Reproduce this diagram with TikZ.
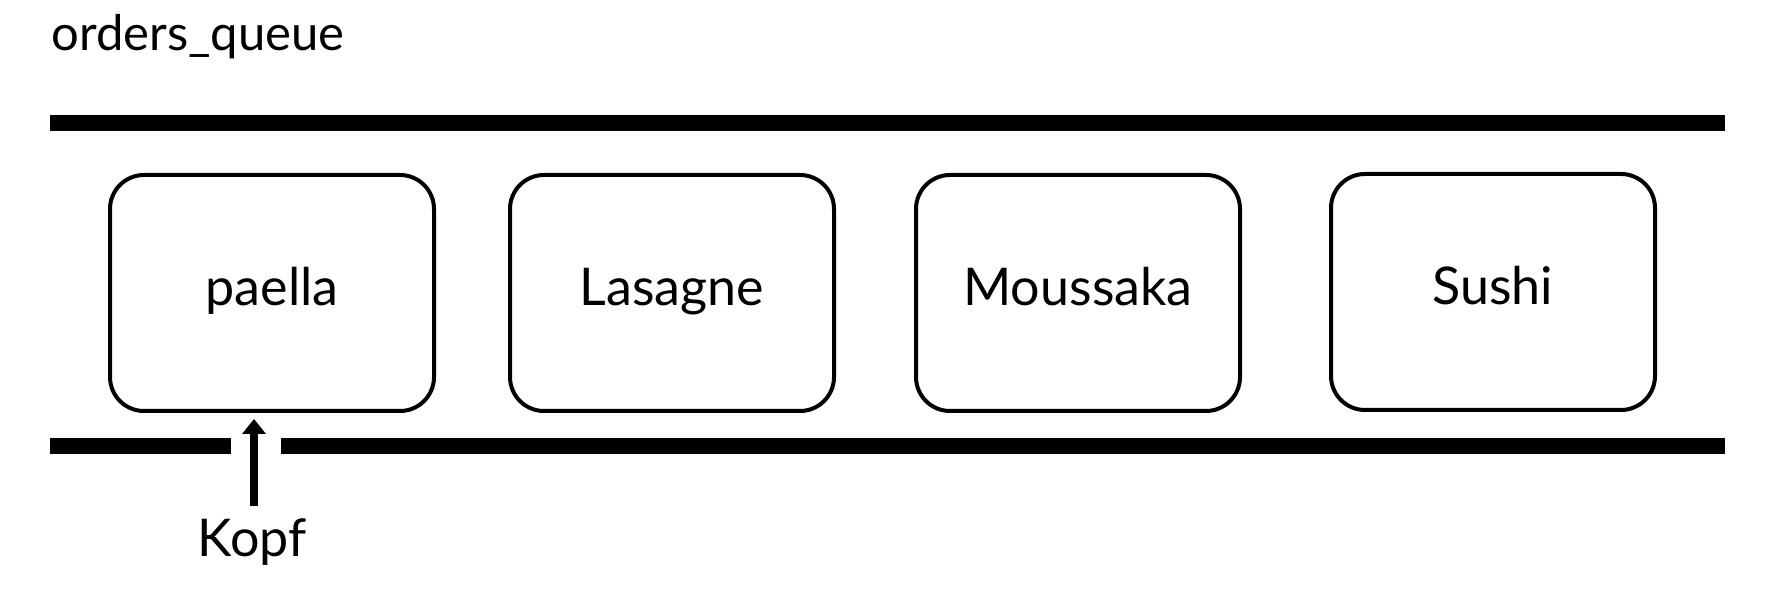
\documentclass[tikz,border=0pt]{standalone}
\usepackage{fontspec}
\setmainfont{Lato}
\usetikzlibrary{arrows.meta}
\begin{document}
\begin{tikzpicture}[x=0.5pt,y=-0.5pt,
  dish/.style={draw=black,line width=2pt,rounded corners=17pt,
    minimum width=162pt,minimum height=118pt,
    font=\fontsize{26pt}{30pt}\selectfont,
    text height=19pt,text depth=6.5pt,inner sep=0pt},
  bar/.style={line width=8pt,line cap=butt},
  lbl/.style={font=\fontsize{26pt}{30pt}\selectfont,inner sep=0pt},
  ptr/.style={line width=3.8pt,-{Triangle[width=11.5pt,length=7.5pt]}}]
\useasboundingbox (0,0) rectangle (1771,592);
\fill[white] (0,0) rectangle (1771,592);
% title
\node[lbl,font=\fontsize{24.5pt}{29pt}\selectfont,anchor=base west] (title) at (51,51) {orders\_queue};
% bars
\coordinate (tl) at (50,123);
\coordinate (tr) at (1725,123);
\coordinate (bl) at (50,446);
\coordinate (bg1) at (231,446);
\coordinate (bg2) at (281,446);
\coordinate (br) at (1725,446);
\draw[bar] (tl) -- (tr);
\draw[bar] (bl) -- (bg1);
\draw[bar] (bg2) -- (br);
% dishes
\node[dish] (paella) at (272,293) {paella};
\node[dish] (lasagne) at (672,293) {Lasagne};
\node[dish] (moussaka) at (1078,293) {Moussaka};
\node[dish] (sushi) at (1493,292) {Sushi};
% head pointer
\node[lbl,anchor=base] (kopf) at (252,556) {Kopf};
\coordinate (head) at (254,419);
\draw[ptr] ([xshift=1pt,yshift=6pt]kopf.north) -- (head);
\end{tikzpicture}
\end{document}
